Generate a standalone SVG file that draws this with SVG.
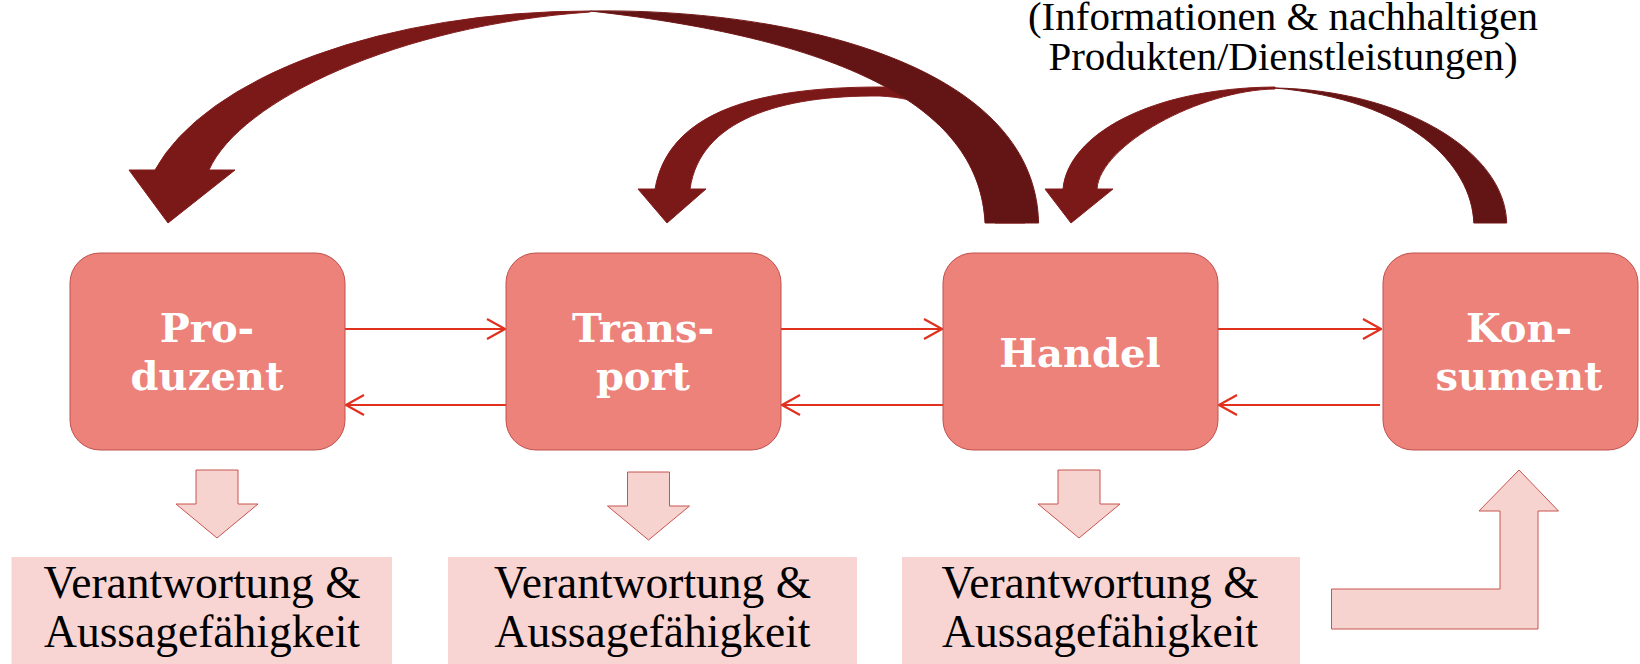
<svg xmlns="http://www.w3.org/2000/svg" width="1640" height="664" viewBox="0 0 1640 664">
  <style>
    .node rect { fill: #EC8279; stroke: #C0504D; stroke-width: 1; }
    .node text { font-family: "DejaVu Serif", "Liberation Serif", serif; font-weight: bold; font-size: 40px; fill: #FFFFFF; text-anchor: middle; }
    .flow { stroke: #E2301E; stroke-width: 2.2; fill: none; }
    .block { fill: #F7D3D0; stroke: #C8544F; stroke-width: 1; }
    .label rect { fill: #F8D5D2; }
    .label text { font-family: "Liberation Serif", "Times New Roman", serif; font-size: 45.5px; fill: #000000; text-anchor: middle; }
    .caption { font-family: "Liberation Serif", "Times New Roman", serif; font-size: 41px; fill: #000000; text-anchor: middle; }
    .arc-front { fill: #7B1818; stroke: #851C1C; stroke-width: 1; }
    .arc-back { fill: #631515; stroke: #731818; stroke-width: 1; }
  </style>
  <defs>
    <marker id="open-head" viewBox="0 0 20 22" refX="19" refY="11" markerWidth="20" markerHeight="22" markerUnits="userSpaceOnUse" orient="auto">
      <path d="M1,1 L19,11 L1,21" fill="none" stroke="#E2301E" stroke-width="2.2"/>
    </marker>
    <path id="down-block" d="M-21,0 H21 V34 H41 L0,68 L-41,34 H-21 Z"/>
  </defs>

  <!-- caption above the return arrows -->
  <g id="caption">
    <text class="caption" x="1283" y="30">(Informationen &amp; nachhaltigen</text>
    <text class="caption" x="1283" y="70">Produkten/Dienstleistungen)</text>
  </g>

  <!-- curved return arrows -->
  <g id="feedback-arrows">
    <!-- Handel -> Transport (tail hidden behind the large arc) -->
    <g id="arc-handel-transport">
      <path class="arc-front" d="M655,189 C668,115 750,87 880,87 C960,87 1020,140 1025,223 L995,223 C990,150 960,100 880,96 C780,95 700,120 690,189 L706,189 L667,223 L638,189 Z"/>
    </g>
    <!-- Handel -> Produzent -->
    <g id="arc-handel-produzent">
      <path class="arc-front" d="M590,11 A449 212 0 0 0 155,170 L129,170 L168,223 L235,170 L209,170 C240,100 400,25 590,12 Z"/>
      <path class="arc-back" d="M985,223 C980,110 850,40 590,11 C780,8 1035,60 1038.6,223 Z"/>
    </g>
    <!-- Konsument -> Handel -->
    <g id="arc-konsument-handel">
      <path class="arc-front" d="M1063,189 C1068,135 1150,88 1275,87 L1275,89 C1200,90 1100,145 1097,189 L1113,189 L1071,223 L1045,189 Z"/>
      <path class="arc-back" d="M1473.8,223 C1472,165 1410,100 1275,88 C1400,90 1505,150 1506.7,223 Z"/>
    </g>
  </g>

  <!-- horizontal flows between the stations -->
  <g id="connectors">
    <line class="flow" x1="345" y1="329" x2="505" y2="329" marker-end="url(#open-head)"/>
    <line class="flow" x1="506" y1="405" x2="346" y2="405" marker-end="url(#open-head)"/>
    <line class="flow" x1="781" y1="329" x2="942" y2="329" marker-end="url(#open-head)"/>
    <line class="flow" x1="943" y1="405" x2="782" y2="405" marker-end="url(#open-head)"/>
    <line class="flow" x1="1218" y1="329" x2="1381" y2="329" marker-end="url(#open-head)"/>
    <line class="flow" x1="1380" y1="405" x2="1219" y2="405" marker-end="url(#open-head)"/>
  </g>

  <!-- stations -->
  <g id="node-produzent" class="node">
    <rect x="70" y="253" width="275" height="197" rx="30" ry="30"/>
    <text x="207" y="342">Pro-</text>
    <text x="207" y="390">duzent</text>
  </g>
  <g id="node-transport" class="node">
    <rect x="506" y="253" width="275" height="197" rx="30" ry="30"/>
    <text x="643" y="342">Trans-</text>
    <text x="643" y="390">port</text>
  </g>
  <g id="node-handel" class="node">
    <rect x="943" y="253" width="275" height="197" rx="30" ry="30"/>
    <text x="1080" y="367">Handel</text>
  </g>
  <g id="node-konsument" class="node">
    <rect x="1383" y="253" width="255" height="197" rx="30" ry="30"/>
    <text x="1519" y="342">Kon-</text>
    <text x="1519" y="390">sument</text>
  </g>

  <!-- block arrows below the stations -->
  <g id="down-arrows">
    <use href="#down-block" class="block" transform="translate(217,470)"/>
    <use href="#down-block" class="block" transform="translate(648.5,472)"/>
    <use href="#down-block" class="block" transform="translate(1079,470)"/>
  </g>
  <g id="bent-arrow">
    <path class="block" d="M1519,470 L1558.5,511 L1538,511 L1538,629 L1331.5,629 L1331.5,589 L1500,589 L1500,511 L1479,511 Z"/>
  </g>

  <!-- responsibility labels -->
  <g id="label-produzent" class="label">
    <rect x="11.5" y="557" width="380.5" height="107"/>
    <text x="202" y="598">Verantwortung &amp;</text>
    <text x="202" y="647">Aussagefähigkeit</text>
  </g>
  <g id="label-transport" class="label">
    <rect x="448" y="557" width="409" height="107"/>
    <text x="652.5" y="598">Verantwortung &amp;</text>
    <text x="652.5" y="647">Aussagefähigkeit</text>
  </g>
  <g id="label-handel" class="label">
    <rect x="902" y="557" width="398" height="107"/>
    <text x="1100" y="598">Verantwortung &amp;</text>
    <text x="1100" y="647">Aussagefähigkeit</text>
  </g>
</svg>
